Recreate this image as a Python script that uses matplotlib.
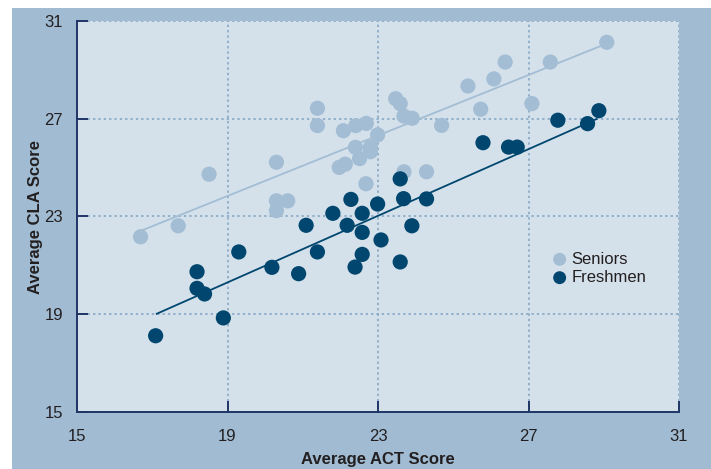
import matplotlib
matplotlib.use("Agg")
import matplotlib.pyplot as plt
from matplotlib.patches import Rectangle

# ---- data ----
seniors_act = [16.69, 17.69, 18.51, 20.30, 20.30, 20.60, 20.30, 21.39, 21.39, 22.08,
               22.41, 22.69, 22.99, 22.40, 22.80, 22.80, 22.51, 21.97, 22.13, 22.68,
               23.47, 23.59, 23.69, 23.91, 24.69, 23.69, 24.29, 25.39, 25.73, 26.08,
               26.38, 27.09, 27.58, 29.08]
seniors_cla = [22.17, 22.62, 24.73, 25.22, 23.64, 23.64, 23.24, 27.43, 26.72, 26.51,
               26.72, 26.81, 26.34, 25.83, 25.84, 25.65, 25.37, 25.01, 25.14, 24.34,
               27.82, 27.62, 27.11, 27.02, 26.73, 24.83, 24.83, 28.34, 27.39, 28.63,
               29.32, 27.62, 29.32, 30.13]

freshmen_act = [17.09, 18.19, 18.19, 18.39, 18.89, 19.30, 20.18, 20.89, 21.09, 21.39,
                21.80, 22.18, 22.28, 22.39, 22.58, 22.58, 22.58, 23.08, 22.99, 23.59,
                23.68, 23.59, 23.90, 24.29, 25.79, 26.47, 26.70, 27.78, 28.57, 28.87]
freshmen_cla = [18.12, 20.74, 20.06, 19.83, 18.85, 21.55, 20.92, 20.66, 22.64, 21.55,
                23.13, 22.64, 23.70, 20.93, 23.13, 22.35, 21.45, 22.04, 23.51, 24.54,
                23.73, 21.14, 22.62, 23.72, 26.02, 25.84, 25.84, 26.94, 26.80, 27.33]

# trend line end points
seniors_fit_x = [16.69, 28.94]
seniors_fit_y = [22.41, 29.99]
freshmen_fit_x = [17.12, 28.81]
freshmen_fit_y = [19.02, 26.99]

ticks = [15, 19, 23, 27, 31]

# ---- style ----
outer_bg = "#a0bbd2"
inner_bg = "#d4e1eb"
c_sen = "#a3bdd4"
c_fre = "#00466e"
c_axis = "#1f3566"
c_grid = "#7ea2c1"
c_text = "#231f20"

plt.rcParams["font.family"] = ["Liberation Sans Narrow", "Liberation Sans", "DejaVu Sans"]

W, H = 711, 469
fig = plt.figure(figsize=(W / 100, H / 100), dpi=100)
fig.patch.set_facecolor("white")
fig.patches.append(Rectangle((12 / W, 0), 1 - 12 / W, (H - 8) / H,
                             transform=fig.transFigure, facecolor=outer_bg,
                             edgecolor="none", zorder=-10))

ax = fig.add_axes([77 / W, (H - 412) / H, 602 / W, 391 / H])
ax.set_facecolor(inner_bg)

ax.set_xlim(15, 31)
ax.set_ylim(15, 31)
ax.set_xticks(ticks)
ax.set_yticks(ticks)

for v in ticks[1:]:
    ax.axvline(v, color=c_grid, lw=1.1, ls=(0, (1.5, 2)), zorder=1)
    ax.axhline(v, color=c_grid, lw=1.1, ls=(0, (1.5, 2)), zorder=1)

ax.plot(seniors_fit_x, seniors_fit_y, color=c_sen, lw=1.3, zorder=2)
ax.plot(freshmen_fit_x, freshmen_fit_y, color=c_fre, lw=1.3, zorder=2)

ax.scatter(seniors_act, seniors_cla, s=120, color=c_sen, edgecolors="none",
           zorder=3, label="Seniors")
ax.scatter(freshmen_act, freshmen_cla, s=120, color=c_fre, edgecolors="none",
           zorder=4, label="Freshmen")

for side in ["top", "right"]:
    ax.spines[side].set_visible(False)
for side in ["left", "bottom"]:
    ax.spines[side].set_color(c_axis)
    ax.spines[side].set_linewidth(1.4)

ax.tick_params(direction="in", length=8, width=1.4, color=c_axis,
               labelsize=12, labelcolor=c_text)
ax.tick_params(axis="x", pad=12)
ax.tick_params(axis="y", pad=10)

ax.set_xlabel("Average ACT Score", fontsize=12, fontweight="bold",
              color=c_text, labelpad=6)
ax.set_ylabel("Average CLA Score", fontsize=12, fontweight="bold",
              color=c_text, labelpad=1)

leg = ax.legend(loc="upper left", bbox_to_anchor=(0.763, 0.427), frameon=False,
                fontsize=12, handletextpad=-0.3, labelspacing=0.2,
                borderaxespad=0, scatterpoints=1, markerscale=0.85)
for t in leg.get_texts():
    t.set_color(c_text)

fig.savefig("out.png", dpi=100, facecolor=fig.get_facecolor())
